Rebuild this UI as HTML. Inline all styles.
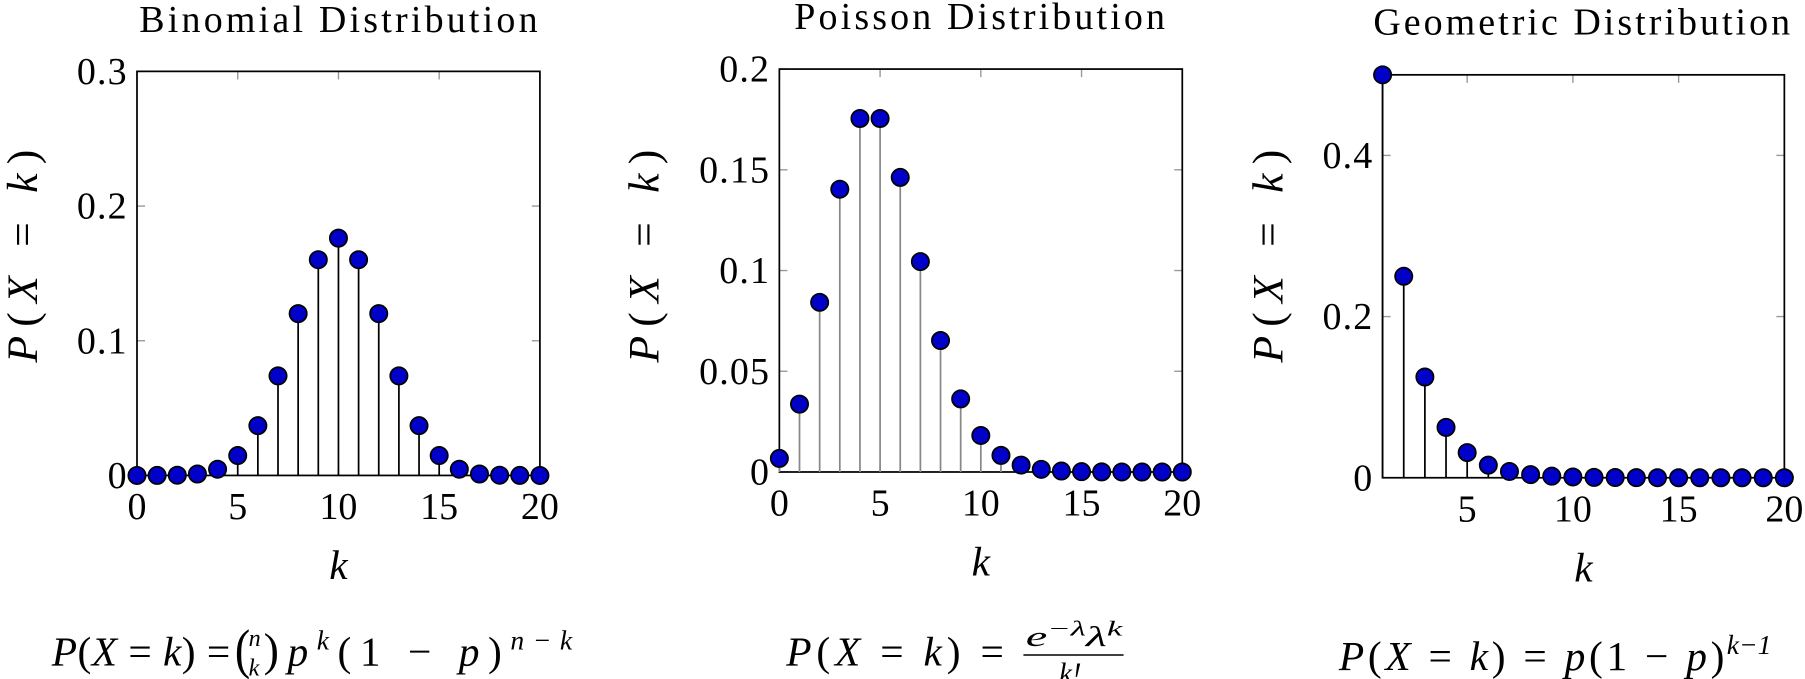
<!DOCTYPE html>
<html><head><meta charset="utf-8"><style>
body{margin:0;background:#fff}
svg{display:block}
text{font-family:"Liberation Serif",serif;fill:#000}
.it{font-style:italic}
</style></head><body>
<svg id="chart" width="1805" height="679" viewBox="0 0 1805 679" xmlns="http://www.w3.org/2000/svg">
<g transform="scale(1.1512)">
<g id="g"></g>
<text x="45" y="578" font-size="36" textLength="155" lengthAdjust="spacing"><tspan class="it">P</tspan>(<tspan class="it">X</tspan> = <tspan class="it">k</tspan>) =</text>
<text x="204" y="580" font-size="40" transform="translate(204,580) scale(1,1.2) translate(-204,-580)">(</text>
<text x="216" y="561" font-size="21" class="it">n</text>
<text x="216" y="587" font-size="21" class="it">k</text>
<text x="229" y="578" font-size="36" textLength="268" lengthAdjust="spacing"><tspan font-size="40">)</tspan><tspan class="it">p</tspan><tspan class="it" font-size="24" dy="-14">k</tspan><tspan dy="14">(1 − </tspan><tspan class="it">p</tspan>)<tspan class="it" font-size="24" dy="-14">n−k</tspan></text>
<text x="683" y="578" font-size="36" textLength="189" lengthAdjust="spacing"><tspan class="it">P</tspan>(<tspan class="it">X</tspan> = <tspan class="it">k</tspan>) =</text>
<text x="891" y="561" font-size="25" class="it" textLength="84" lengthAdjust="spacingAndGlyphs">e<tspan font-size="18" dy="-9">−λ</tspan><tspan dy="9">λ</tspan><tspan font-size="18" dy="-9">k</tspan></text>
<line x1="889" y1="569" x2="976" y2="569" stroke="#000" stroke-width="1.3"/>
<text x="920" y="593" font-size="25" class="it">k!</text>
<text x="1163" y="582" font-size="36" textLength="335" lengthAdjust="spacing"><tspan class="it">P</tspan>(<tspan class="it">X</tspan> = <tspan class="it">k</tspan>) = <tspan class="it">p</tspan>(1 − <tspan class="it">p</tspan>)</text>
<text x="1500" y="568" font-size="24" class="it">k−1</text>
</g>
</svg>
<script>
const binomK=[0,1,2,3,4,5,6,7,8,9,10,11,12,13,14,15,16,17,18,19,20];
const binomP=[0.000001,0.000019,0.000181,0.001087,0.004621,0.014786,0.036964,0.073929,0.120134,0.160179,0.176197,0.160179,0.120134,0.073929,0.036964,0.014786,0.004621,0.001087,0.000181,0.000019,0.000001];
const poisK=[0,1,2,3,4,5,6,7,8,9,10,11,12,13,14,15,16,17,18,19,20];
const poisP=[0.006738,0.033690,0.084224,0.140374,0.175467,0.175467,0.146223,0.104445,0.065278,0.036266,0.018133,0.008242,0.003434,0.001321,0.000472,0.000157,0.000049,0.000014,0.000004,0.000001,0.0000003];
const geoK=[1,2,3,4,5,6,7,8,9,10,11,12,13,14,15,16,17,18,19,20];
const geoP=[0.5,0.25,0.125,0.0625,0.03125,0.015625,0.0078125,0.0039063,0.0019531,0.0009766,0.0004883,0.0002441,0.0001221,0.000061,0.0000305,0.0000153,0.0000076,0.0000038,0.0000019,0.000001];
const binomYTicks=[0,0.1,0.2,0.3], binomYLabels=["0","0.1","0.2","0.3"];
const poisYTicks=[0,0.05,0.1,0.15,0.2], poisYLabels=["0","0.05","0.1","0.15","0.2"];
const geoYTicks=[0,0.2,0.4], geoYLabels=["0","0.2","0.4"];
const xTicksAll=[0,5,10,15,20];
const geoXTicks=[5,10,15,20];
const NS="http://www.w3.org/2000/svg";
const G=document.getElementById('g');
function mk(t,a,p){const e=document.createElementNS(NS,t);for(const k in a)e.setAttribute(k,a[k]);(p||G).appendChild(e);return e;}
function panel(o){
  const sx=v=>o.x0+(v-o.xmin)/(o.xmax-o.xmin)*(o.x1-o.x0);
  const sy=v=>o.y1-(v-o.ymin)/(o.ymax-o.ymin)*(o.y1-o.y0);
  const g=mk('g',{});
  
  
  o.xt.forEach(v=>{const X=sx(v);
    mk('line',{x1:X,y1:o.y0,x2:X,y2:o.y0+7,stroke:'#999','stroke-width':1.2},g);
    mk('line',{x1:X,y1:o.y1,x2:X,y2:o.y1-7,stroke:'#999','stroke-width':1.2},g);
    const t=mk('text',{x:X,y:o.y1+38,'font-size':33,'text-anchor':'middle'},g);
    
    
    t.textContent=String(v);});
  o.yt.forEach((v,i)=>{const Y=sy(v);
    mk('line',{x1:o.x0,y1:Y,x2:o.x0+7,y2:Y,stroke:'#999','stroke-width':1.2},g);
    mk('line',{x1:o.x1,y1:Y,x2:o.x1-7,y2:Y,stroke:'#999','stroke-width':1.2},g);
    const t=mk('text',{x:o.x0-8,y:Y+11,'font-size':33,'text-anchor':'end','letter-spacing':1},g);
    
    
    t.textContent=o.yl[i];});
  const r=mk('rect',{x:o.x0,y:o.y0,width:o.x1-o.x0,height:o.y1-o.y0,fill:'none',stroke:'#000','stroke-width':1.5},g);
  
  
  o.k.forEach((k,i)=>{const X=sx(k),Y=sy(o.p[i]);
    const s=mk('line',{x1:X,y1:o.y1,x2:X,y2:Y,stroke:o.stem,'stroke-width':1.5},g);
    
    });
  o.k.forEach((k,i)=>{
    const c=mk('circle',{cx:sx(k),cy:sy(o.p[i]),r:7.5,fill:'#0000c8',stroke:'#000','stroke-width':1.5},g);
    
    });
  const tt=mk('text',{x:o.tx,y:o.ty,'font-size':33,textLength:o.tw,lengthAdjust:'spacing'},g);
  
  
  tt.textContent=o.title;
  const xl=mk('text',{x:(o.x0+o.x1)/2,y:o.y1+90,'font-size':36,'text-anchor':'middle','font-style':'italic'},g);
  
  
  xl.textContent='k';
  const yl=mk('text',{x:-92,y:0,'font-size':38,textLength:185,lengthAdjust:'spacing',transform:`translate(${o.ylx},${o.ylc}) rotate(-90)`},g);
  
  
  yl.innerHTML='<tspan font-style="italic">P</tspan>(<tspan font-style="italic">X</tspan> = <tspan font-style="italic">k</tspan>)';
}
panel({name:'binomial',title:'Binomial Distribution',tx:121,ty:28,tw:346,x0:119,x1:469,y0:62,y1:413,xmin:0,xmax:20,ymin:0,ymax:0.3,k:binomK,p:binomP,xt:xTicksAll,yt:binomYTicks,yl:binomYLabels,stem:'#000',ylx:32,ylc:223});
panel({name:'poisson',title:'Poisson Distribution',tx:690,ty:25,tw:322,x0:677,x1:1027,y0:60,y1:410,xmin:0,xmax:20,ymin:0,ymax:0.2,k:poisK,p:poisP,xt:xTicksAll,yt:poisYTicks,yl:poisYLabels,stem:'#888',ylx:572,ylc:223});
panel({name:'geometric',title:'Geometric Distribution',tx:1193,ty:30,tw:362,x0:1201,x1:1550,y0:65,y1:415,xmin:1,xmax:20,ymin:0,ymax:0.5,k:geoK,p:geoP,xt:geoXTicks,yt:geoYTicks,yl:geoYLabels,stem:'#000',ylx:1114,ylc:223});
</script>
</body></html>
